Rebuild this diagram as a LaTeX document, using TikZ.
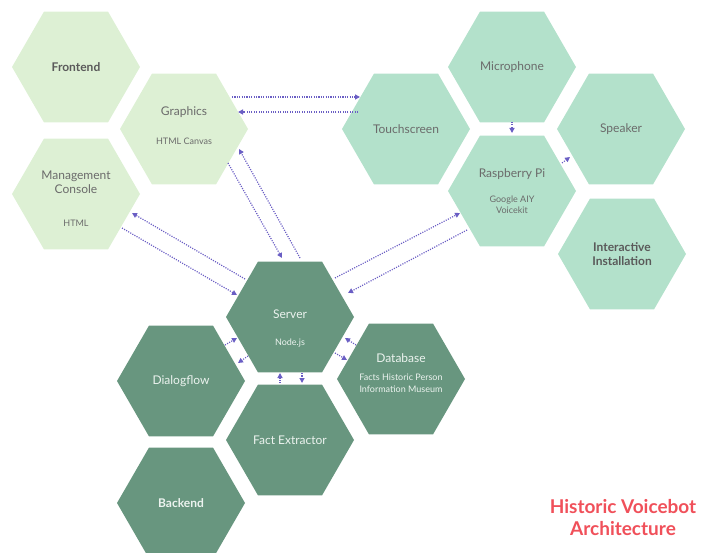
\documentclass[tikz,border=0pt]{standalone}
\usepackage{fontspec}
\setmainfont{Lato}
\usetikzlibrary{shapes.geometric,arrows.meta,calc}

\definecolor{frontfill}{HTML}{DDF0D4}
\definecolor{devfill}{HTML}{B3E1CB}
\definecolor{backfill}{HTML}{68967F}
\definecolor{darktext}{HTML}{6B6B6B}
\definecolor{boldtext}{HTML}{5A5A5A}
\definecolor{lighttext}{HTML}{ECF3EF}
\definecolor{linkcol}{HTML}{6A5EC4}
\definecolor{titlered}{HTML}{F0505A}

\newcommand\hexmain{\fontsize{12}{14}\selectfont}
\newcommand\hexsub{\fontsize{9}{11}\selectfont}

\tikzset{
  hexa/.style={regular polygon, regular polygon sides=6, minimum size=128pt,
    inner sep=-20pt, outer sep=0pt, draw=none, align=center, font=\hexmain},
  fronthex/.style={hexa, fill=frontfill, text=darktext},
  devhex/.style={hexa, fill=devfill, text=darktext},
  backhex/.style={hexa, fill=backfill, text=lighttext},
  link/.style={draw=linkcol, line width=1.2pt, dash pattern=on 1.1pt off 1.3pt,
    -{Triangle[length=5pt,width=5pt]}},
  titletext/.style={text=titlered, font=\fontsize{19}{22}\selectfont\bfseries, align=center}
}

\begin{document}
\begin{tikzpicture}[x=1pt, y=-1pt]
  \useasboundingbox (0,0) rectangle (704,553);
  \clip (0,0) rectangle (704,553);

  % Frontend group
  \node[fronthex, text=boldtext, font=\hexmain\bfseries] (front) at (76,67) {Frontend};
  \node[fronthex] (gfx) at (184,129) {Graphics\\[15pt]{\hexsub HTML Canvas}\\[-8pt]{}};
  \node[fronthex] (mgmt) at (76,194) {{}\\[4pt]Management\\Console\\[19pt]{\hexsub HTML}};

  % Interactive installation group
  \node[devhex] (mic) at (512,67) {Microphone};
  \node[devhex] (touch) at (406,129) {Touchscreen};
  \node[devhex] (spk) at (621,129) {Speaker};
  \node[devhex] (pi) at (512,191) {Raspberry Pi\\[11pt]{\hexsub Google AIY}\\[-3pt]{\hexsub Voicekit}};
  \node[devhex, text=boldtext, font=\hexmain\bfseries] (inst) at (622,254) {Interactive\\Installation};

  % Backend group
  \node[backhex] (srv) at (290,317) {{}\\[18pt]Server\\[13pt]{\hexsub Node.js}};
  \node[backhex] (dlg) at (181,381) {Dialogflow};
  \node[backhex] (db) at (401,379) {Database\\[4pt]{\hexsub Facts Historic Person}\\[-2pt]{\hexsub Information Museum}\\[-2pt]{}};
  \node[backhex] (fact) at (290,440) {Fact Extractor};
  \node[backhex, font=\hexmain\bfseries] (back) at (181,503) {Backend};

  % Connections
  \draw[link] ($(gfx)+(48,-32)$) -- ($(touch)+(-46,-32)$);
  \draw[link] ($(touch)+(-48,-17)$) -- ($(gfx)+(54,-17)$);

  \draw[link] ($(gfx)+(44,34)$) -- ($(srv)+(-8,-59)$);
  \draw[link] ($(srv)+(10,-59)$) -- ($(gfx)+(55,20)$);

  \draw[link] ($(mgmt)+(46,34)$) -- ($(srv)+(-53,-22)$);
  \draw[link] ($(srv)+(-45,-38)$) -- ($(mgmt)+(56,19)$);

  \draw[link] ($(srv)+(45,-39)$) -- ($(pi)+(-52,22)$);
  \draw[link] ($(pi)+(-45,39)$) -- ($(srv)+(58,-24)$);

  \draw[link] ($(mic)+(0,55)$) -- ($(pi)+(0,-58)$);
  \draw[link] ($(pi)+(50,-28)$) -- ($(spk)+(-51,28)$);

  \draw[link] ($(dlg)+(44,-36)$) -- ($(srv)+(-53,21)$);
  \draw[link] ($(srv)+(-42,39)$) -- ($(dlg)+(57,-18)$);

  \draw[link] ($(fact)+(-10,-57)$) -- ($(srv)+(-10,56)$);
  \draw[link] ($(srv)+(12,56)$) -- ($(fact)+(12,-57)$);

  \draw[link] ($(db)+(-45,-34)$) -- ($(srv)+(55,21)$);
  \draw[link] ($(srv)+(45,36)$) -- ($(db)+(-54,-19)$);

  % Title
  \node[titletext] (title) at (623,518) {Historic Voicebot\\Architecture};
\end{tikzpicture}
\end{document}
